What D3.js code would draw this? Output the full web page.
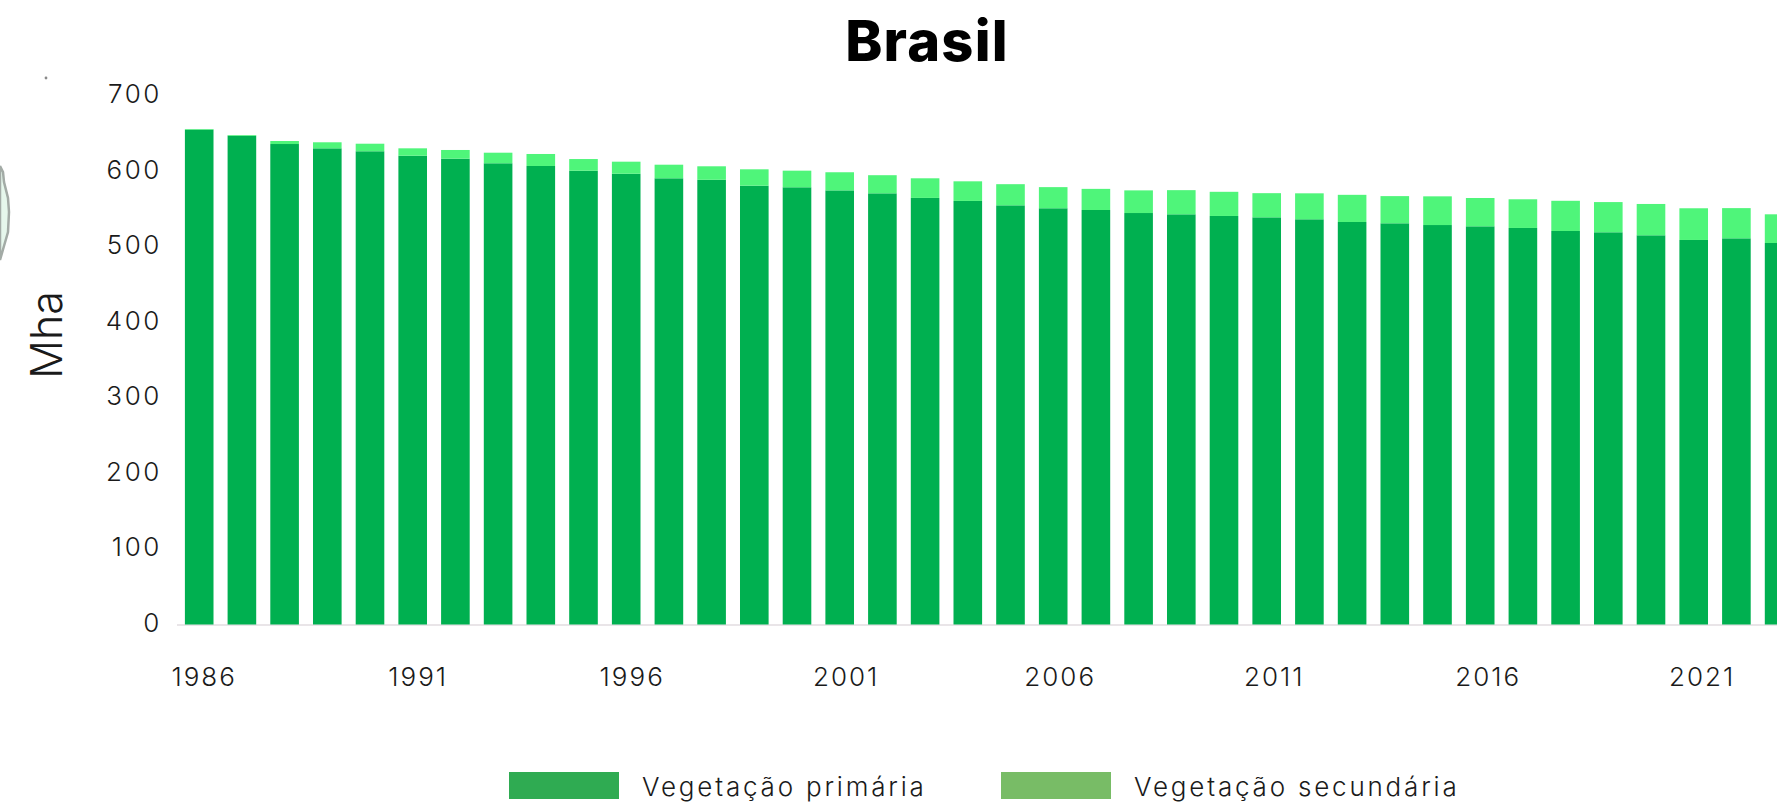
<!DOCTYPE html>
<html><head><meta charset="utf-8">
<script src="https://cdn.jsdelivr.net/npm/d3@7"></script>
<style>
html,body{margin:0;padding:0;background:#fff;overflow:hidden}
svg{display:block}
text{font-family:Inter,"Open Sans",sans-serif;fill:#1a1a1a;font-weight:300}
</style></head><body>
<script>
const years = d3.range(0,38).map(i=>String(1986+i));
const primaria = [655.5,647.4,636.4,630.7,626.8,620.9,617,610.9,607.3,601,597,591,589,581.2,579.1,575,571.1,565,561,555.2,551.3,549,545,543.3,541.1,539.3,536.7,533.1,531.4,529.1,527.4,525.2,521.2,519.5,515.5,509.3,511.5,505.3];
const secundaria = [0.8,0.9,4,8,10,9.8,11.5,14,15.9,15.5,16,18,17.9,21.7,22,24,24,26,26,28,28,28,30,32,32,32,34.4,36,36,38,37.5,38,40,40,41.5,42,40,38];
const yTicks = [0,100,200,300,400,500,600,700];
const xTickLabels = ["1986","1991","1996","2001","2006","2011","2016","2021"];
const seriesNames = ["Vegetação primária","Vegetação secundária"];
const barColors = ["#00B050","#4FF57A"];
const legendColors = ["#2FAB52","#78BC66"];

const W=1777,H=805;
const svg=d3.select("body").append("svg").attr("width",W).attr("height",H);

const x=d3.scaleBand().domain(years).range([177.85,1800.45]).paddingInner(.33).paddingOuter(.165);
const y=d3.scaleLinear().domain([0,700]).range([624.5,96]);

// decorative map fragment at the left edge
svg.append("path").attr("d","M0,166 L3,172 L4,182 L8,198 L9,212 L8,232 L4,246 L0,260 Z")
  .attr("fill","#e6f7ec").attr("stroke","#a3aba6").attr("stroke-width",2.5);
svg.append("circle").attr("cx",46).attr("cy",78).attr("r",1.4).attr("fill","#8a8a8a");

// axis line sits behind the bars
const gx=svg.append("g").attr("transform",`translate(0,${y(0)})`)
  .call(d3.axisBottom(x).tickValues(xTickLabels).tickSize(0).tickPadding(43));
gx.select(".domain").attr("stroke","#e2dce0").attr("stroke-width",1.5).attr("d",`M177,0.5H1777`);
gx.selectAll("text").attr("dx",(d,i)=>5+i*0.5).style("font-size","26px").style("letter-spacing","2px");

// bars
const stack=d3.stack().keys([0,1]).value((d,k)=>d[k+1]);
const rows=years.map((yr,i)=>[yr,primaria[i],secundaria[i]]);
svg.append("g").selectAll("g").data(stack(rows)).join("g").attr("fill",(d,i)=>barColors[i])
  .selectAll("rect").data(d=>d).join("rect")
  .attr("x",d=>x(d.data[0])).attr("width",x.bandwidth())
  .attr("y",d=>y(d[1])).attr("height",d=>y(d[0])-y(d[1]));

const gy=svg.append("g").attr("transform","translate(162,0)")
  .call(d3.axisLeft(y).tickValues(yTicks).tickSize(0).tickPadding(0));
gy.select(".domain").remove();
gy.selectAll("text").attr("dy","0.32em").attr("transform","translate(0,-1.5)")
  .style("font-size","26px").style("letter-spacing","2.6px");

// title and axis label
svg.append("text").attr("x",927).attr("y",61).attr("text-anchor","middle")
  .style("font-size","56px").style("font-weight",800).style("letter-spacing","1.2px").style("fill","#000").text("Brasil");
svg.append("text").attr("transform","translate(62,335) rotate(-90)").attr("text-anchor","middle")
  .style("font-size","43px").text("Mha");

// legend
const legX=d3.scaleOrdinal().domain(seriesNames).range([509,1001]);
const leg=svg.append("g").selectAll("g").data(seriesNames).join("g")
  .attr("transform",d=>`translate(${legX(d)},772)`);
leg.append("rect").attr("width",110).attr("height",27).attr("fill",(d,i)=>legendColors[i]);
leg.append("text").attr("x",133).attr("y",24).style("font-size","26px").style("letter-spacing","2.8px").text(d=>d);
</script>
</body></html>
